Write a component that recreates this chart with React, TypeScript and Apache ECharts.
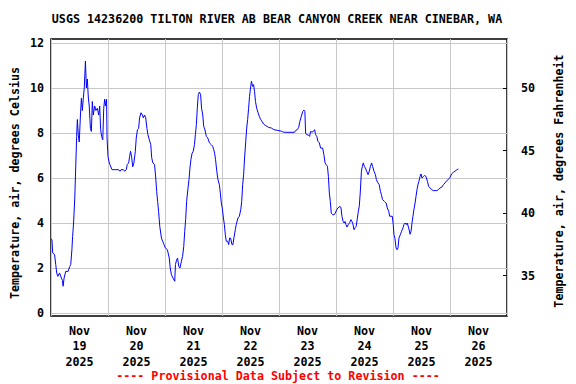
import React, { useEffect, useRef } from "react";
import * as echarts from "echarts";

const TITLE = "USGS 14236200 TILTON RIVER AB BEAR CANYON CREEK NEAR CINEBAR, WA";
const FOOTER = "---- Provisional Data Subject to Revision ----";
const Y_LEFT_NAME = "Temperature, air, degrees Celsius";
const Y_RIGHT_NAME = "Temperature, air, degrees Fahrenheit";
const dayLabels = ["Nov\n19\n2025", "Nov\n20\n2025", "Nov\n21\n2025", "Nov\n22\n2025", "Nov\n23\n2025", "Nov\n24\n2025", "Nov\n25\n2025", "Nov\n26\n2025"];
const fahrenheitTicks = [35, 40, 45, 50];

// hours since Nov 19 2025 00:00
const hours = [
  0.0, 0.4, 0.7, 1.5, 2.0, 2.4, 2.9, 3.6, 4.4, 4.8, 5.1, 5.5, 6.2, 7.2, 7.9, 8.3, 8.8, 9.1, 9.5, 10.0,
  10.4, 10.8, 11.1, 11.5, 11.9, 12.4, 12.8, 13.2, 13.6, 14.0, 14.5, 14.9, 15.3, 15.7, 16.1, 16.6, 17.0, 17.4, 17.8, 18.4,
  18.9, 19.5, 20.1, 20.5, 20.9, 21.3, 21.8, 22.2, 22.6, 23.0, 23.4, 23.6, 24.0, 24.4, 24.8, 25.7, 27.0, 28.5, 29.0, 29.5,
  30.5, 31.0, 31.7, 32.1, 32.7, 33.1, 33.5, 34.0, 34.4, 34.9, 35.5, 35.9, 36.4, 36.9, 37.3, 37.9, 38.5, 38.9, 39.4, 39.9,
  40.4, 40.8, 41.4, 42.0, 42.4, 42.9, 43.6, 44.1, 44.5, 44.9, 45.3, 45.8, 46.5, 47.0, 47.6, 48.1, 49.0, 49.8, 50.2, 50.7,
  51.4, 52.1, 52.4, 52.9, 53.3, 53.8, 54.3, 54.9, 55.4, 55.9, 56.3, 56.7, 57.1, 57.7, 58.1, 58.5, 58.9, 59.4, 59.9, 60.4,
  60.8, 61.2, 61.6, 62.0, 62.5, 63.0, 63.4, 63.9, 64.3, 64.8, 65.4, 66.0, 66.7, 67.5, 68.1, 68.5, 68.9, 69.3, 69.8, 70.3,
  70.9, 71.3, 71.7, 72.1, 72.6, 73.0, 73.4, 73.8, 74.4, 74.8, 75.2, 75.6, 76.2, 76.6, 77.0, 77.6, 78.0, 78.7, 79.3, 79.9,
  80.3, 80.7, 81.1, 81.5, 82.0, 82.4, 82.8, 83.2, 83.6, 84.0, 84.4, 84.9, 85.3, 85.7, 86.1, 86.6, 87.2, 87.7, 88.3, 88.8,
  89.5, 90.2, 90.9, 91.6, 92.8, 93.8, 95.2, 97.0, 97.8, 99.0, 102.5, 102.9, 103.7, 104.3, 104.8, 105.4, 106.0, 106.5, 106.9, 107.2,
  107.6, 108.5, 108.9, 109.3, 109.9, 110.5, 111.0, 111.4, 111.9, 112.4, 113.0, 113.5, 114.4, 114.9, 115.4, 115.8, 116.4, 116.8, 117.2, 117.6,
  118.0, 118.6, 119.3, 119.7, 120.3, 120.8, 121.7, 122.1, 122.5, 123.0, 123.4, 123.8, 124.2, 124.6, 125.2, 125.8, 126.3, 126.7, 127.1, 127.6,
  128.1, 128.5, 129.0, 129.4, 129.8, 130.2, 130.7, 131.1, 131.5, 131.9, 132.4, 132.9, 133.5, 134.0, 134.5, 135.0, 135.4, 136.0, 136.6, 137.0,
  137.5, 138.2, 138.7, 139.1, 139.6, 140.4, 141.1, 141.6, 142.2, 142.6, 143.7, 144.1, 144.4, 144.8, 145.3, 145.7, 146.1, 146.5, 147.1, 147.6,
  148.2, 148.6, 149.1, 149.6, 150.0, 150.6, 151.2, 151.6, 152.0, 152.4, 152.8, 153.3, 153.7, 154.1, 154.5, 154.9, 155.4, 155.8, 156.2, 156.8,
  157.3, 157.9, 158.5, 159.0, 159.6, 160.3, 161.0, 162.4, 163.1, 163.8, 164.5, 165.2, 165.9, 166.6, 167.3, 168.0, 168.7, 169.4, 170.1, 170.8,
  171.5,
];

const tempC = [
  3.3, 3.26, 2.67, 2.6, 2.15, 1.78, 1.63, 1.78, 1.55, 1.45, 1.19, 1.55, 1.85, 1.85, 2.07, 2.15, 2.81, 3.4, 4.0, 5.1,
  6.44, 7.85, 8.6, 7.9, 7.6, 8.8, 9.55, 9.0, 9.55, 10.0, 11.2, 10.0, 10.4, 9.6, 9.2, 8.2, 8.07, 9.4, 8.8, 9.2,
  9.0, 9.1, 8.8, 9.2, 8.15, 7.85, 7.7, 9.1, 9.5, 9.2, 9.5, 7.78, 6.96, 6.74, 6.6, 6.37, 6.37, 6.37, 6.3, 6.37,
  6.37, 6.3, 6.37, 6.6, 6.67, 6.96, 7.19, 6.9, 6.5, 6.67, 7.19, 7.78, 8.15, 8.2, 8.67, 8.9, 8.8, 8.67, 8.8, 8.67,
  8.2, 7.93, 7.7, 7.48, 6.9, 6.67, 6.6, 6.0, 5.4, 4.96, 4.52, 3.85, 3.33, 3.19, 3.04, 2.9, 2.81, 2.44, 2.0, 1.7,
  1.55, 1.41, 2.15, 2.37, 2.44, 2.07, 2.0, 2.3, 2.52, 2.96, 3.63, 4.15, 4.96, 5.56, 5.93, 6.44, 6.81, 7.1, 7.19, 7.48,
  7.93, 8.37, 9.1, 9.7, 9.82, 9.7, 9.1, 8.8, 8.3, 8.15, 7.85, 7.78, 7.56, 7.48, 7.41, 7.26, 7.1, 6.81, 6.3, 5.93,
  5.7, 5.33, 4.89, 4.67, 4.22, 3.93, 3.48, 3.19, 3.19, 3.04, 3.33, 3.33, 3.04, 3.04, 3.33, 3.7, 3.93, 4.22, 4.3, 4.59,
  4.96, 5.7, 6.15, 6.89, 7.63, 8.22, 8.6, 9.1, 9.63, 10.0, 10.3, 10.07, 10.15, 9.85, 9.4, 9.1, 8.9, 8.74, 8.6, 8.52,
  8.4, 8.34, 8.3, 8.25, 8.22, 8.15, 8.12, 8.08, 8.04, 8.03, 8.03, 8.1, 8.15, 8.25, 8.52, 8.74, 8.96, 9.02, 8.96, 8.0,
  7.93, 7.9, 7.85, 8.07, 8.04, 8.07, 8.15, 7.93, 7.85, 7.63, 7.56, 7.33, 7.33, 7.04, 6.67, 6.6, 6.52, 6.07, 5.33, 4.96,
  4.44, 4.37, 4.37, 4.44, 4.59, 4.67, 4.74, 4.67, 4.3, 4.07, 4.0, 4.07, 3.93, 3.82, 3.93, 4.03, 4.15, 4.07, 3.96, 3.7,
  3.8, 3.85, 4.22, 4.52, 4.74, 5.33, 6.3, 6.52, 6.67, 6.52, 6.44, 6.3, 6.15, 6.3, 6.52, 6.67, 6.52, 6.3, 6.15, 5.93,
  5.81, 5.7, 5.41, 5.26, 5.04, 4.96, 4.89, 4.67, 4.52, 4.3, 4.3, 3.93, 3.48, 3.33, 2.89, 2.81, 2.89, 3.33, 3.48, 3.63,
  3.78, 3.93, 4.0, 3.93, 4.0, 3.78, 3.5, 3.63, 4.0, 4.3, 4.59, 4.89, 5.19, 5.48, 5.7, 5.85, 6.07, 6.18, 6.0, 6.07,
  6.11, 6.07, 5.85, 5.63, 5.56, 5.48, 5.44, 5.44, 5.48, 5.56, 5.59, 5.7, 5.78, 5.88, 5.93, 6.03, 6.18, 6.25, 6.3, 6.36,
  6.4,
];

const FONT = "'DejaVu Sans Mono', 'Liberation Mono', monospace";
const FS = 11.7;

export default function App() {
  const ref = useRef<HTMLDivElement>(null);
  useEffect(() => {
    if (!ref.current) return;
    const chart = echarts.init(ref.current, undefined, { renderer: "svg" });
    const lineData = hours.map((h, i) => [h, tempC[i]]);
    const textStyle = { fontFamily: FONT, fontWeight: "bold" as const, fontSize: FS, color: "#000" };
    chart.setOption({
      animation: false,
      backgroundColor: "#fff",
      grid: [
        { left: 51, right: 69, top: 39, bottom: 68, show: true, borderColor: "#000", borderWidth: 1.5, backgroundColor: "transparent" },
        { left: 51, right: 69, top: 43, bottom: 71 },
      ],
      xAxis: [
        {
          type: "category",
          gridIndex: 0,
          data: dayLabels,
          boundaryGap: true,
          axisLine: { show: false },
          axisTick: { show: false },
          splitLine: { show: true, lineStyle: { color: "#c8c8c8", width: 1 } },
          axisLabel: { ...textStyle, interval: 0, lineHeight: 15.5, margin: 7 },
        },
        { type: "value", gridIndex: 1, min: 0, max: 192, show: false },
      ],
      yAxis: [
        { type: "value", gridIndex: 0, min: 0, max: 1, show: false },
        {
          type: "value",
          gridIndex: 1,
          min: 0,
          max: 12,
          interval: 2,
          axisLine: { show: false },
          axisTick: { show: false },
          splitLine: { show: true, lineStyle: { color: "#c8c8c8", width: 1 } },
          axisLabel: { ...textStyle, margin: 7 },
        },
        {
          type: "value",
          gridIndex: 1,
          position: "right",
          min: 32,
          max: 53.6,
          axisLine: { show: false },
          axisTick: { show: true, inside: true, length: 4, customValues: fahrenheitTicks, lineStyle: { color: "#000", width: 1 } },
          splitLine: { show: false },
          axisLabel: { ...textStyle, margin: 14, customValues: fahrenheitTicks },
        },
      ],
      graphic: [
        {
          type: "text",
          x: 277,
          y: 19,
          style: { text: TITLE, font: `bold ${FS}px ${FONT}`, fill: "#000", textAlign: "center", textVerticalAlign: "middle" },
        },
        {
          type: "text",
          x: 278,
          y: 376,
          style: { text: FOOTER, font: `bold ${FS}px ${FONT}`, fill: "#ff0000", textAlign: "center", textVerticalAlign: "middle" },
        },
        {
          type: "text",
          x: 15,
          y: 183,
          rotation: Math.PI / 2,
          style: { text: Y_LEFT_NAME, font: `bold ${FS}px ${FONT}`, fill: "#000", textAlign: "center", textVerticalAlign: "middle" },
        },
        {
          type: "text",
          x: 559,
          y: 181,
          rotation: Math.PI / 2,
          style: { text: Y_RIGHT_NAME, font: `bold ${FS}px ${FONT}`, fill: "#000", textAlign: "center", textVerticalAlign: "middle" },
        },
      ],
      series: [
        {
          type: "line",
          xAxisIndex: 1,
          yAxisIndex: 1,
          data: lineData,
          showSymbol: false,
          symbol: "none",
          lineStyle: { color: "#0000ff", width: 1 },
          z: 5,
        },
      ],
    });
    return () => chart.dispose();
  }, []);
  return <div ref={ref} style={{ position: "fixed", left: 0, top: 0, width: 576, height: 384 }} />;
}
